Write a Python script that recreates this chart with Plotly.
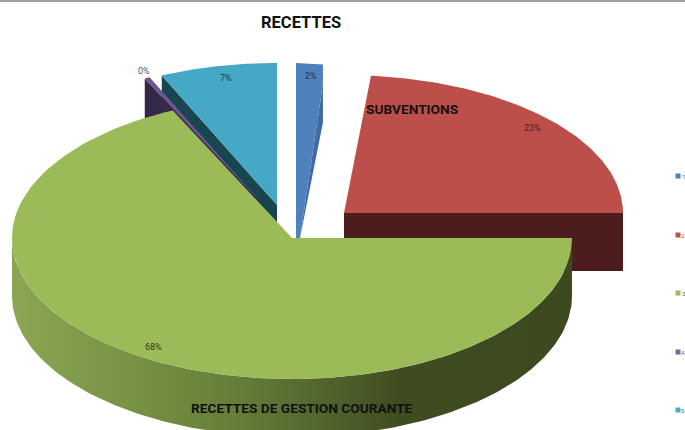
import numpy as np
import plotly.graph_objects as go

categories = ["1", "2", "3", "A", "5"]
values = [2, 23, 68, 0.3, 6.7]
pct_labels = ["2%", "23%", "68%", "0%", "7%"]

W, H = 685, 430
DEPTH = 58
colors = ["#4f81bd", "#c0504d", "#9bbb59", "#8064a2", "#4bacc6"]
top_cols = ["#4f81bd", "#bd4f4b", "#9bbb59", "#6e5590", "#45a8c4"]
side_cols = ["#3f6ca5", "#4c1d1c", "#3e4a20", "#352848", "#174650"]
# per slice: apex x, apex y, rx, ry
geom = [(296, 240, 215, 177), (344, 213, 279, 138), (292, 238, 280, 141), (264, 206, 280, 141), (277, 205, 282, 142)]
# the drawing's perspective narrows the red slice's leading edge slightly
start_scale = [1, 0.77, 1, 1, 1]

fr = np.cumsum([0] + values) / sum(values) * 2 * np.pi


def pt(i, a):
    ax, ay, rx, ry = geom[i]
    return ax + rx * np.sin(a), ay - ry * np.cos(a)


def arc(i, a0, a1, n=140):
    t = np.linspace(a0, a1, n)
    return pt(i, t)


fig = go.Figure()


def poly(xs, ys, color, **kw):
    fig.add_trace(go.Scatter(x=list(xs), y=list(ys), mode="lines", fill="toself", fillcolor=color,
                             line=dict(width=0, color=color), hoverinfo="skip", showlegend=False, **kw))


def wedge(i):
    x, y = arc(i, fr[i] * start_scale[i], fr[i + 1])
    ax, ay = geom[i][:2]
    poly([ax, *x, ax], [ay, *y, ay], top_cols[i])


def cut(i, a):
    ax, ay = geom[i][:2]
    px, py = pt(i, a)
    poly([ax, px, px, ax, ax], [ay, py, py + DEPTH, ay + DEPTH, ay], side_cols[i])


# blue: top face runs down to the lower edge of its bright band, dark cut face beside it
bx, by = pt(0, fr[1])
ax0, ay0 = geom[0][:2]
poly([ax0, ax0, bx, bx, 300, ax0], [ay0, ay0 - geom[0][3], by, by + 19, 238, ay0], top_cols[0])
poly([bx, bx, 300], [by + 19, by + DEPTH, 238], side_cols[0])
# red
cut(1, fr[2])
wedge(1)
# cyan
cut(4, fr[4])
wedge(4)
# purple
cut(3, fr[3])
wedge(3)
# green side with gradient
t = np.linspace(np.pi / 2, 3 * np.pi / 2, 200)
gx, gy = pt(2, t)
fig.add_trace(go.Scatter(
    x=list(gx) + list(gx[::-1]), y=list(gy) + list((gy + DEPTH)[::-1]),
    mode="lines", fill="toself", line=dict(width=0), hoverinfo="skip", showlegend=False,
    fillgradient=dict(type="horizontal", colorscale=[
        [0, "#8ca653"], [0.15, "#7d9848"], [0.3, "#6f8a3e"], [0.45, "#5f7736"],
        [0.7, "#3f4b20"], [1, "#3d4a20"]]),
))
wedge(2)

# top rule
fig.add_shape(type="line", x0=0, x1=W, y0=1, y1=1, line=dict(color="#808080", width=1.5))

# legend squares
leg_y = [176, 235, 293, 352, 410]
fig.add_trace(go.Scatter(x=[678] * 5, y=leg_y, mode="markers", hoverinfo="skip", showlegend=False,
                         marker=dict(symbol="square", size=5, color=colors)))

FONT = "Roboto"
def txt(x, y, s, size=9, bold=False, color="#222222", anchor="center"):
    fig.add_annotation(x=x, y=y, text=f"<b>{s}</b>" if bold else s, showarrow=False,
                       font=dict(family=FONT, size=size, color=color), xanchor=anchor, yanchor="middle",
                       borderpad=0, borderwidth=0)

txt(301, 22, "RECETTES", 16.5, True, "#111111")
txt(412, 109, "SUBVENTIONS", 13.7, True, "#111111")
txt(302, 408, "RECETTES DE GESTION COURANTE", 13.7, True, "#111111")
lab_xy = [(311, 76), (532, 128), (153, 347), (144, 71), (226, 78)]
lab_col = ["#1f3550", "#4a1f1f", "#2f3a18", "#555555", "#173f4a"]
for (x, y), s, c in zip(lab_xy, pct_labels, lab_col):
    txt(x, y, s, color=c)
for y, c in zip(leg_y, categories):
    txt(685, y, c, 6, False, "#666666", anchor="right")

fig.update_xaxes(range=[0, W], visible=False, fixedrange=True)
fig.update_yaxes(range=[H, 0], visible=False, fixedrange=True)
fig.update_layout(width=W, height=H, margin=dict(l=0, r=0, t=0, b=0), paper_bgcolor="white",
                  plot_bgcolor="white", showlegend=False)
fig.write_html("out.html", config=dict(displayModeBar=False),
               post_script="document.body.style.margin='0';document.documentElement.style.overflow='hidden';")
